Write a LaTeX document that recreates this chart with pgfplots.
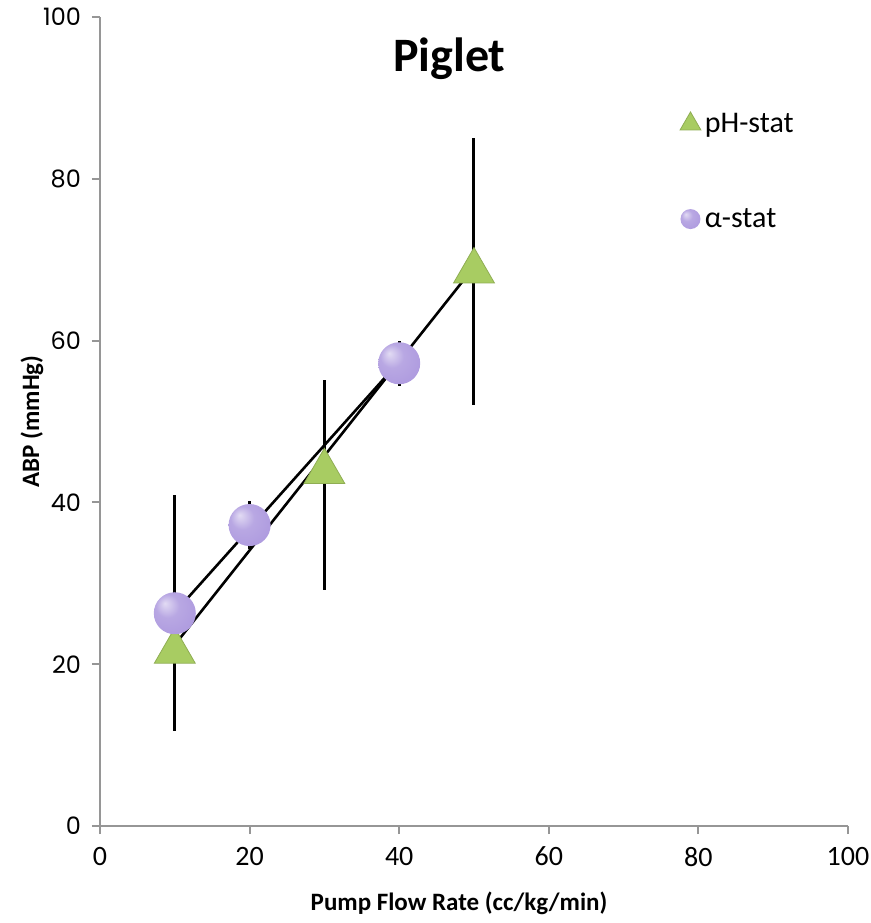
\documentclass[border=0pt]{standalone}
\usepackage{fontspec}
\setmainfont{Carlito}
\newfontfamily\yfont{Poppins}
\usepackage{pgfplots}
\pgfplotsset{compat=1.18}
\usetikzlibrary{plotmarks}
\definecolor{tri}{RGB}{168,204,98}
\definecolor{purp}{RGB}{172,152,222}
\definecolor{axgray}{RGB}{150,150,150}
\pgfdeclareradialshading{lightball}{\pgfpoint{-12bp}{12bp}}{%
  color(0bp)=(purp!35!white);
  color(14bp)=(purp!85!white);
  color(36bp)=(purp);
  color(50bp)=(purp!82!black)}
\pgfdeclareplotmark{lball}{%
  \pgfpathcircle{\pgfpointorigin}{\pgfplotmarksize}%
  \pgfshadepath{lightball}{0}%
  \pgfusepath{discard}}
\begin{document}
\begin{tikzpicture}
\useasboundingbox (-50pt,-48.5pt) rectangle (385.5pt,413pt);
\begin{axis}[
  at={(0,0)}, anchor=south west,
  scale only axis, width=374pt, height=404.5pt,
  xmin=0, xmax=100, ymin=0, ymax=100,
  axis x line*=bottom, axis y line*=left,
  axis line style={-, draw=axgray, line width=1pt},
  xtick={0,20,...,100}, ytick={0,20,...,100},
  tick align=outside, major tick length=4pt,
  tick style={draw=axgray, line width=1pt},
  /pgf/number format/assume math mode=true,
  xticklabel style={font=\fontsize{14}{14}\selectfont, yshift=-3pt},
  yticklabel style={font=\yfont\fontsize{12}{12}\selectfont, xshift=-2pt},
  xlabel={\textbf{Pump Flow Rate (cc/kg/min)}},
  ylabel={\textbf{ABP (mmHg)}},
  xlabel style={font=\fontsize{12.5}{12.5}\selectfont, at={(axis description cs:0.48,-0.095)}, anchor=center},
  ylabel style={font=\fontsize{12.5}{12.5}\selectfont, at={(axis description cs:-0.091,0.5)}, anchor=center},
  title={\textbf{Piglet}},
  title style={font=\fontsize{24}{24}\selectfont, at={(axis description cs:0.467,0.934)}, anchor=center},
  legend style={at={(rel axis cs:0.775,0.887)}, anchor=north west, draw=none, fill=none,
    font=\fontsize{15}{15}\selectfont, row sep=32.5pt, inner sep=0pt},
  legend cell align=left,
  legend image code/.code={\draw[#1] plot coordinates {(0.15cm,0cm)};},
]
% error bars (behind markers)
\addplot[forget plot, draw=none, mark=none,
  error bars/.cd, y dir=both, y explicit,
  error bar style={line width=1.5pt, black}, error mark=none]
  coordinates {
    (30,44.5) += (0,10.6) -= (0,15.3)
    (50,69.3) += (0,15.7) -= (0,17.3)
  };
\addplot[forget plot, draw=none, mark=none,
  error bars/.cd, y dir=both, y explicit,
  error bar style={line width=1.5pt, black}, error mark=none]
  coordinates {
    (10,26.3) +- (0,14.6)
    (20,37.2) +- (0,3.0)
    (40,57.2) +- (0,2.8)
  };
% markers
\addplot[forget plot, only marks, mark=triangle*, mark size=11.8pt,
  mark options={fill=tri, draw=tri!85!black, line width=0.4pt, yshift=-2.9pt}]
  coordinates {(10,22.3) (30,44.5) (50,69.3)};
\addplot[forget plot, only marks, mark=lball, mark size=10.5pt]
  coordinates {(10,26.3) (20,37.2) (40,57.2)};
% trend lines
\addplot[forget plot, black, line width=1.3pt] coordinates {(10,22.4) (50,69.1)};
\addplot[forget plot, black, line width=1.3pt] coordinates {(10,26.4) (40,57.4)};
% legend
\addlegendimage{only marks, mark=triangle*, mark size=6pt, mark options={fill=tri, draw=tri!85!black}}
\addlegendentry{pH-stat}
\addlegendimage{only marks, mark=lball, mark size=5pt}
\addlegendentry{α-stat}
\end{axis}
\end{tikzpicture}
\end{document}
